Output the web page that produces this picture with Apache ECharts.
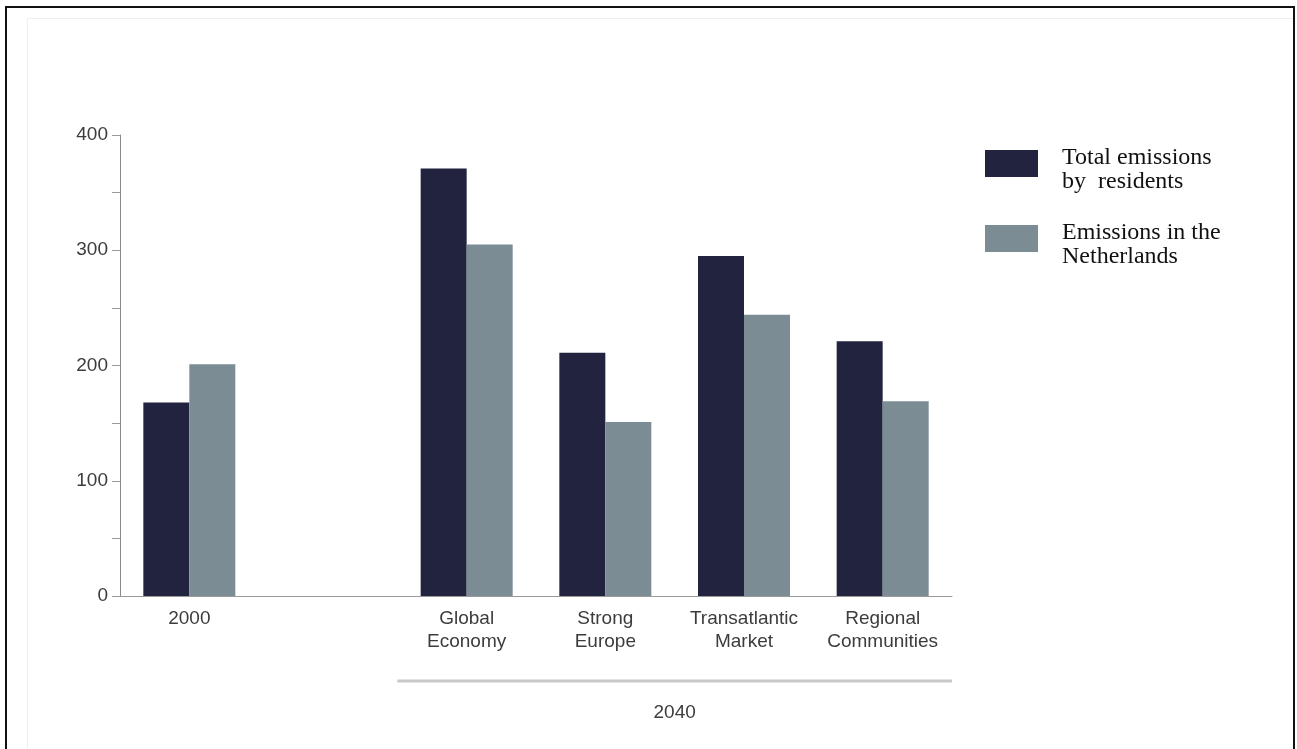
<!DOCTYPE html>
<html>
<head>
<meta charset="utf-8">
<script src="https://cdn.jsdelivr.net/npm/echarts@6/dist/echarts.min.js"></script>
<style>
  html, body { margin: 0; padding: 0; background: #fff; }
  #chart { position: absolute; left: 0; top: 0; width: 1297px; height: 749px; }
  #frame { position: absolute; left: 5px; top: 6px; width: 1286px; height: 760px;
           border: 2px solid #111; border-bottom: none; pointer-events: none; }
  #inner { position: absolute; left: 27px; top: 18px; width: 1266px; height: 740px;
           border-top: 1px solid #efefef; border-left: 1px solid #efefef; pointer-events: none; }
</style>
</head>
<body>
<div id="chart"></div>
<div id="inner"></div>
<div id="frame"></div>
<script>
// categories, second one is an empty spacer between 2000 and the 2040 scenarios
var categories = ['2000', '', 'Global\nEconomy', 'Strong\nEurope', 'Transatlantic\nMarket', 'Regional\nCommunities'];
var residents = [168, null, 371, 211, 295, 221];
var netherlands = [201, null, 305, 151, 244, 169];
var seriesNames = ['Total emissions\nby  residents', 'Emissions in the\nNetherlands'];
var groupLabel = '2040';
var groupFrom = 2;   // first category under the 2040 bracket
var groupTo = 5;     // last category under the 2040 bracket

var myChart = echarts.init(document.getElementById('chart'));

var labelColor = '#3c3c3c';
var sans = '"Liberation Sans", Arial, sans-serif';

option = {
  animation: false,
  grid: {
    left: 120,
    right: 345,
    top: 135,
    bottom: 153
  },
  legend: {
    orient: 'vertical',
    left: 980,
    top: 128,
    itemWidth: 53,
    itemHeight: 27,
    itemGap: 14,
    icon: 'rect',
    data: seriesNames,
    // small spacer line on top pushes the text a bit below the swatch centre
    formatter: function (name) {
      return '{s| }\n' + name;
    },
    textStyle: {
      fontFamily: '"Liberation Serif", "Times New Roman", serif',
      fontSize: 24,
      lineHeight: 24,
      color: '#111',
      padding: [0, 0, 0, 19],
      rich: {
        s: { fontSize: 6, lineHeight: 13 }
      }
    }
  },
  xAxis: {
    type: 'category',
    data: categories,
    axisLine: { lineStyle: { color: '#9a9a9a', width: 1 } },
    axisTick: { show: false },
    axisLabel: {
      interval: 0,
      margin: 11,
      fontFamily: sans,
      fontSize: 19,
      lineHeight: 23,
      color: labelColor
    }
  },
  yAxis: {
    type: 'value',
    min: 0,
    max: 400,
    interval: 100,
    splitLine: { show: false },
    axisLine: { show: true, lineStyle: { color: '#8a8a8a', width: 1 } },
    axisTick: { show: true, length: 8, lineStyle: { color: '#9a9a9a' } },
    minorTick: { show: true, splitNumber: 2, length: 8, lineStyle: { color: '#9a9a9a' } },
    axisLabel: {
      margin: 12,
      fontFamily: sans,
      fontSize: 19,
      color: labelColor
    }
  },
  series: [
    {
      name: seriesNames[0],
      type: 'bar',
      data: residents,
      barWidth: 46,
      barGap: '0%',
      itemStyle: { color: '#22233f' }
    },
    {
      name: seriesNames[1],
      type: 'bar',
      data: netherlands,
      barWidth: 46,
      barGap: '0%',
      itemStyle: { color: '#7b8c95' }
    }
  ]
};
myChart.setOption(option);

// bracket line + "2040" under the scenario categories, placed from the axis scale
function drawGroup() {
  var c0 = myChart.convertToPixel({ xAxisIndex: 0 }, groupFrom);
  var c1 = myChart.convertToPixel({ xAxisIndex: 0 }, groupFrom + 1);
  var cEnd = myChart.convertToPixel({ xAxisIndex: 0 }, groupTo);
  var band = c1 - c0;
  var x1 = c0 - band / 2;
  var x2 = cEnd + band / 2;
  var y0 = myChart.convertToPixel({ yAxisIndex: 0 }, 0);
  myChart.setOption({
    graphic: [
      {
        type: 'line',
        shape: { x1: x1, y1: y0 + 85, x2: x2, y2: y0 + 85 },
        style: { stroke: '#c8c8c8', lineWidth: 3 }
      },
      {
        type: 'text',
        x: (x1 + x2) / 2,
        y: y0 + 117,
        style: {
          text: groupLabel,
          font: '19px ' + sans,
          fill: labelColor,
          align: 'center',
          verticalAlign: 'middle'
        }
      }
    ]
  });
}
drawGroup();
</script>
</body>
</html>
